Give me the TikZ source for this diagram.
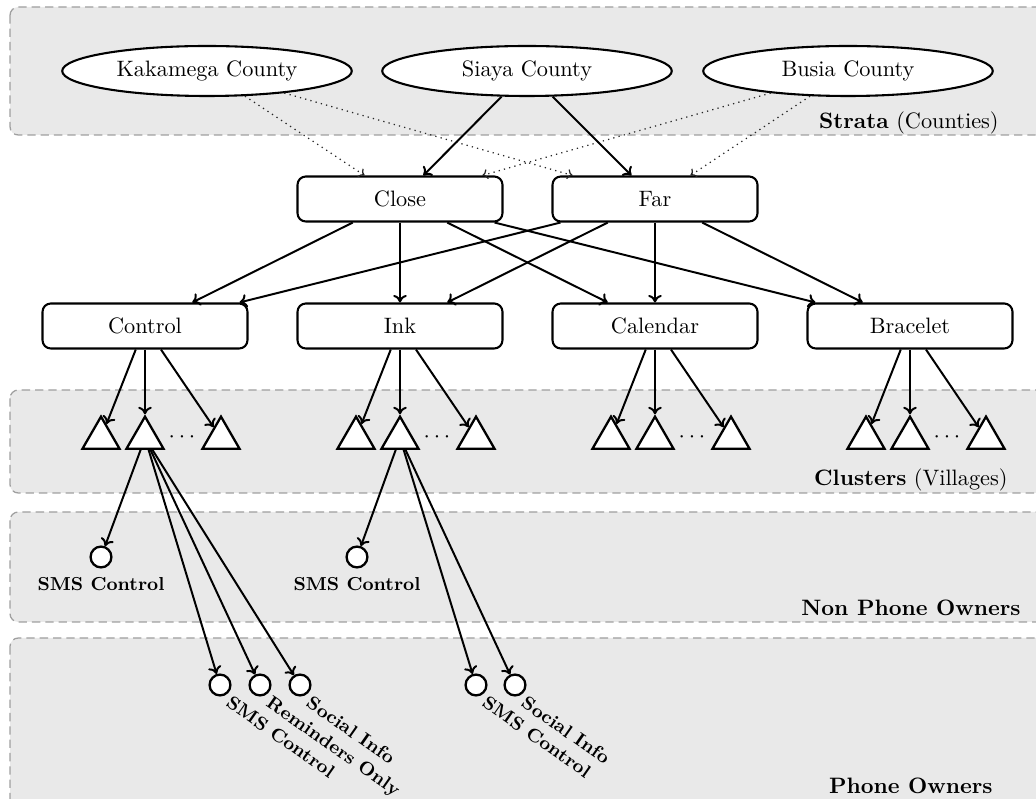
\documentclass[tikz,border=0pt]{standalone}
\usetikzlibrary{shapes.geometric,arrows.meta}
\begin{document}
\begin{tikzpicture}[x=0.48pt,y=-0.48pt,
  mainfont/.style={font=\fontsize{10.7}{12.8}\selectfont},
  band/.style={draw=gray!75,fill=gray!17,dashed,dash pattern=on 4pt off 2.4pt,rounded corners=4pt,line width=0.6pt},
  county/.style={ellipse,draw,fill=white,line width=1pt,minimum width=139pt,minimum height=24pt,inner sep=0pt,mainfont},
  boxn/.style={rectangle,draw,fill=white,rounded corners=4pt,line width=1pt,minimum width=98.4pt,minimum height=21.6pt,inner sep=0pt,mainfont},
  tri/.style={regular polygon,regular polygon sides=3,draw,fill=white,line width=1.1pt,minimum size=20.5pt,inner sep=0pt},
  circ/.style={circle,draw,fill=white,line width=1.1pt,minimum size=10pt,inner sep=0pt},
  arr/.style={-{To[length=3.6pt,width=6.5pt]},line width=0.95pt},
  darr/.style={-{To[length=2.6pt,width=4.8pt]},line width=0.6pt,dotted,black!85},
  blabel/.style={anchor=east,inner sep=0pt,mainfont},
  plabel/.style={rotate=-35,anchor=north west,inner sep=0.5pt,font=\small\bfseries},
  slabel/.style={inner sep=0pt,font=\small\bfseries}
]
\clip (0,0) rectangle (1036,799);
% bands
\draw[band] (10,7) rectangle (1060,135);
\draw[band] (10,390) rectangle (1060,493);
\draw[band] (10,512) rectangle (1060,622);
\draw[band] (10,638) rectangle (1060,830);
\node[blabel] (lstrata) at (999,123) {\textbf{Strata} (Counties)};
\node[blabel] (lclust) at (1008,480) {\textbf{Clusters} (Villages)};
\node[blabel] (lnon) at (1021,608) {\textbf{Non Phone Owners}};
\node[blabel] (lphone) at (993,786) {\textbf{Phone Owners}};
% counties
\node[county] (kak) at (207,71) {Kakamega County};
\node[county] (sia) at (527,71) {Siaya County};
\node[county] (bus) at (848,71) {Busia County};
% distance
\node[boxn] (close) at (400,199) {Close};
\node[boxn] (far) at (655,199) {Far};
% treatments
\node[boxn] (ctrl) at (145,326) {Control};
\node[boxn] (ink) at (400,326) {Ink};
\node[boxn] (cal) at (655,326) {Calendar};
\node[boxn] (bra) at (910,326) {Bracelet};
% county arrows
\draw[darr] (kak) -- (close);
\draw[darr] (kak) -- (far);
\draw[darr] (bus) -- (close);
\draw[darr] (bus) -- (far);
\draw[arr] (sia) -- (close);
\draw[arr] (sia) -- (far);
% distance to treatments
\foreach \t in {ctrl,ink,cal,bra}{
  \draw[arr] (close) -- (\t);
  \draw[arr] (far) -- (\t);
}
% clusters
\foreach \t/\c in {ctrl/145,ink/400,cal/655,bra/910}{
  \node[tri] (\t a) at (\c-44,438) {};
  \node[tri] (\t b) at (\c,438) {};
  \node[tri] (\t c) at (\c+76,438) {};
  \node[inner sep=0pt,mainfont] (\t d) at (\c+37,437) {$\cdots$};
  \draw[arr] (\t) -- (\t a);
  \draw[arr] (\t) -- (\t b);
  \draw[arr] (\t) -- (\t c);
}
% non phone owners
\node[circ] (nc1) at (101,557) {};
\node[slabel] (nl1) at (101,584) {SMS Control};
\node[circ] (nc2) at (357,557) {};
\node[slabel] (nl2) at (357,584) {SMS Control};
\draw[arr] (ctrlb) -- (nc1);
\draw[arr] (inkb) -- (nc2);
% phone owners
\node[circ] (p1) at (220,685) {};
\node[circ] (p2) at (260,685) {};
\node[circ] (p3) at (300,685) {};
\node[circ] (p4) at (476,685) {};
\node[circ] (p5) at (515,685) {};
\node[plabel] (pl1) at ([xshift=2pt]p1.south east) {SMS Control};
\node[plabel] (pl2) at ([xshift=2pt]p2.south east) {Reminders Only};
\node[plabel] (pl3) at ([xshift=2pt]p3.south east) {Social Info};
\node[plabel] (pl4) at ([xshift=2pt]p4.south east) {SMS Control};
\node[plabel] (pl5) at ([xshift=2pt]p5.south east) {Social Info};
\draw[arr] (ctrlb) -- (p1);
\draw[arr] (ctrlb) -- (p2);
\draw[arr] (ctrlb) -- (p3);
\draw[arr] (inkb) -- (p4);
\draw[arr] (inkb) -- (p5);
\end{tikzpicture}
\end{document}
